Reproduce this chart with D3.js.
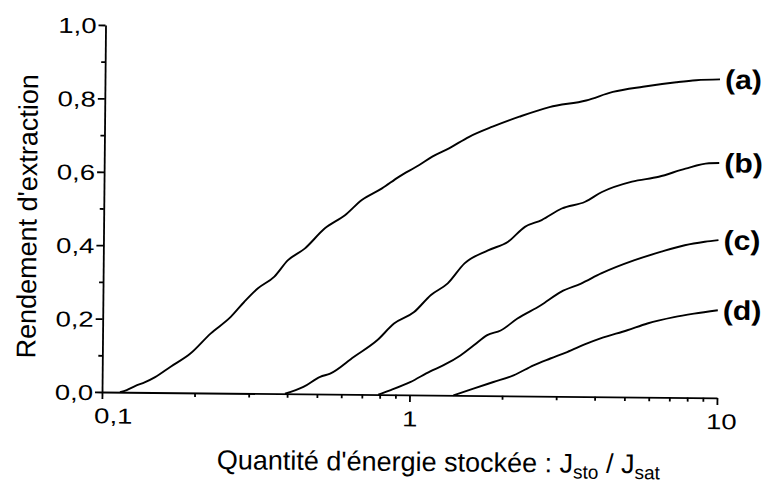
<!DOCTYPE html>
<html>
<head>
<meta charset="utf-8">
<script src="https://cdn.jsdelivr.net/npm/d3@7"></script>
<style>
  html, body { margin: 0; padding: 0; background: #fff; }
  svg { display: block; }
  text { font-family: "Liberation Sans", Arial, Helvetica, sans-serif; fill: #000; }
</style>
</head>
<body>
<svg id="chart" width="763" height="487"></svg>
<script>
// ---- data ----
const seriesNames = ["(a)", "(b)", "(c)", "(d)"];

const curveA_x = [0.1144, 0.1203, 0.128, 0.138, 0.1487, 0.1664, 0.1933, 0.2245, 0.2608, 0.288, 0.3184, 0.3606, 0.3988, 0.4515, 0.5245, 0.609, 0.690, 0.802, 0.909, 1.055, 1.166, 1.321, 1.535, 1.827, 2.232, 2.793, 3.675, 4.487, 5.618, 7.21, 8.37, 10];
const curveA_y = [0, 0.006, 0.017, 0.028, 0.042, 0.070, 0.107, 0.162, 0.208, 0.249, 0.286, 0.319, 0.364, 0.396, 0.452, 0.488, 0.530, 0.562, 0.594, 0.626, 0.650, 0.673, 0.705, 0.733, 0.761, 0.788, 0.807, 0.831, 0.846, 0.859, 0.865, 0.868];

const curveB_x = [0.3936, 0.4515, 0.5117, 0.5513, 0.6567, 0.782, 0.886, 1.029, 1.166, 1.321, 1.496, 1.782, 2.070, 2.345, 2.657, 3.086, 3.675, 4.164, 5.212, 6.367, 7.772, 9.26, 10];
const curveB_y = [0, 0.019, 0.047, 0.056, 0.102, 0.148, 0.194, 0.226, 0.273, 0.305, 0.360, 0.396, 0.420, 0.461, 0.480, 0.512, 0.531, 0.558, 0.587, 0.601, 0.624, 0.639, 0.640];

const curveC_x = [0.7916, 0.864, 1.004, 1.166, 1.288, 1.46, 1.613, 1.782, 1.97, 2.232, 2.657, 3.086, 3.585, 4.164, 5.343, 6.526, 7.772, 9.03, 10];
const curveC_y = [0, 0.012, 0.035, 0.065, 0.082, 0.109, 0.137, 0.165, 0.178, 0.211, 0.248, 0.285, 0.308, 0.336, 0.373, 0.397, 0.415, 0.425, 0.430];

const curveD_x = [1.389, 1.613, 1.873, 2.176, 2.526, 2.864, 3.245, 3.770, 4.164, 5.085, 5.907, 7.21, 8.37, 10];
const curveD_y = [0, 0.019, 0.0375, 0.056, 0.084, 0.103, 0.121, 0.145, 0.159, 0.182, 0.201, 0.219, 0.229, 0.239];

const yMajorTicks = [0, 0.2, 0.4, 0.6, 0.8, 1.0];
const yMinorTicks = [0.1, 0.3, 0.5, 0.7, 0.9];
const yTickLabels = ["0,0", "0,2", "0,4", "0,6", "0,8", "1,0"];
const xMajorTicks = [0.1, 1, 10];
const xMinorTicks = [0.2, 0.3, 0.4, 0.5, 0.6, 0.7, 0.8, 0.9, 2, 3, 4, 5, 6, 7, 8, 9];
const xTickLabels = ["0,1", "1", "10"];

const yTitle = "Rendement d'extraction";
const xTitleMain = "Quantité d'énergie stockée : J";
const xTitleSub1 = "sto";
const xTitleMid = " / J";
const xTitleSub2 = "sat";

// ---- layout ----
const svg = d3.select("#chart");
const X0 = 102, X1 = 717, Y0 = 392, Y1 = 25;
const x = d3.scaleLog().domain([0.1, 10]).range([X0, X1]);
const y = d3.scaleLinear().domain([0, 1]).range([Y0, Y1]);

// whole figure slightly rotated like the scanned original
const g = svg.append("g").attr("transform", `rotate(0.55, ${X0}, ${Y0})`);

const axisStroke = 1.8;
const tickFont = "21.5px";
const tickStretch = 1.28;

function stretch(sel, factor) {
  sel.each(function () {
    const len = this.getComputedTextLength();
    d3.select(this).attr("textLength", len * factor).attr("lengthAdjust", "spacingAndGlyphs");
  });
}

// y axis
const yAxis = d3.axisLeft(y)
  .tickValues(yMajorTicks)
  .tickSize(7).tickSizeOuter(0).tickPadding(2)
  .tickFormat((d, i) => yTickLabels[i]);
const gy = g.append("g").attr("transform", `translate(${X0},0)`).call(yAxis);
gy.selectAll("text").style("font-size", tickFont).attr("dy", "0.36em")
  .style("font-family", "'Liberation Sans', Arial, sans-serif").attr("fill", "#000");
stretch(gy.selectAll("text"), tickStretch);

const gyMinor = g.append("g").attr("transform", `translate(${X0},0)`)
  .call(d3.axisLeft(y).tickValues(yMinorTicks).tickSize(4).tickFormat(""));
gyMinor.select(".domain").remove();

// x axis
const xAxis = d3.axisBottom(x)
  .tickValues(xMajorTicks)
  .tickSize(7).tickSizeOuter(0).tickPadding(9)
  .tickFormat((d, i) => xTickLabels[i]);
const gx = g.append("g").attr("transform", `translate(0,${Y0})`).call(xAxis);
gx.selectAll("text").style("font-size", tickFont)
  .style("font-family", "'Liberation Sans', Arial, sans-serif").attr("fill", "#000")
  .attr("dx", (d) => d === 0.1 ? 11 : (d === 10 ? 4 : 0));
stretch(gx.selectAll("text"), tickStretch);

const gxMinor = g.append("g").attr("transform", `translate(0,${Y0})`)
  .call(d3.axisBottom(x).tickValues(xMinorTicks).tickSize(4).tickFormat(""));
gxMinor.select(".domain").remove();

g.selectAll(".domain, .tick line").attr("stroke", "#000").attr("stroke-width", axisStroke);

// curves
const allX = [curveA_x, curveB_x, curveC_x, curveD_x];
const allY = [curveA_y, curveB_y, curveC_y, curveD_y];
const line = d3.line().x(d => x(d[0])).y(d => y(d[1])).curve(d3.curveMonotoneX);

seriesNames.forEach((name, k) => {
  const pts = allX[k].map((v, i) => [v, allY[k][i]]);
  g.append("path")
    .datum(pts)
    .attr("d", line)
    .attr("fill", "none")
    .attr("stroke", "#000")
    .attr("stroke-width", 1.9)
    .attr("stroke-linejoin", "round");
  const last = pts[pts.length - 1];
  const t = g.append("text")
    .attr("x", x(last[0]) + 5)
    .attr("y", y(last[1]))
    .attr("dy", "0.35em")
    .style("font-size", "27px")
    .style("font-weight", "bold")
    .text(name);
  stretch(t, 1.12);
});

// axis titles
const xt = g.append("text")
  .attr("x", 439).attr("y", 468)
  .attr("text-anchor", "middle")
  .style("font-size", "27px");
xt.append("tspan").text(xTitleMain);
xt.append("tspan").attr("dy", 6).style("font-size", "19px").text(xTitleSub1);
xt.append("tspan").attr("dy", -6).text(xTitleMid);
xt.append("tspan").attr("dy", 6).style("font-size", "19px").text(xTitleSub2);

g.append("text")
  .attr("transform", "translate(35,217) rotate(-90)")
  .attr("text-anchor", "middle")
  .style("font-size", "27px")
  .text(yTitle);
</script>
</body>
</html>
